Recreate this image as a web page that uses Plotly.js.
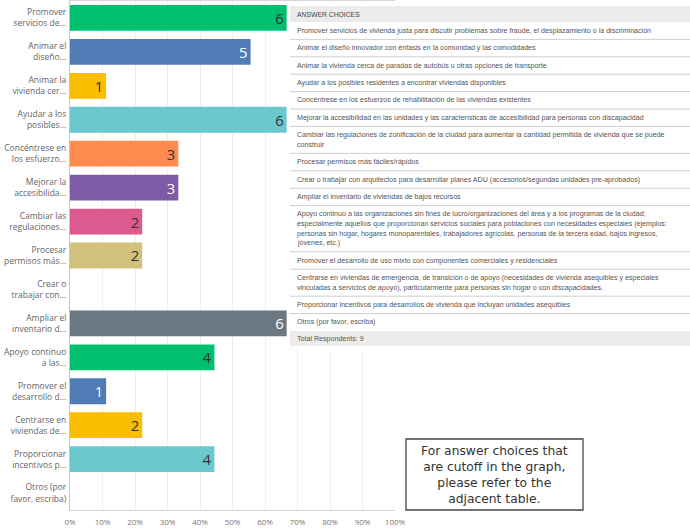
<!DOCTYPE html>
<html>
<head>
<meta charset="utf-8">
<script src="https://cdn.plot.ly/plotly-3.0.1.min.js"></script>
<style>
  html, body { margin: 0; padding: 0; background: #fff; }
  #plot { width: 690px; height: 529px; }
</style>
</head>
<body>
<div id="plot"></div>
<script>
// short labels as they appear on the chart (cut off)
let choices = [
    'Promover<br>servicios de...',
    'Animar el<br>diseño...',
    'Animar la<br>vivienda cer...',
    'Ayudar a los<br>posibles...',
    'Concéntrese en<br>los esfuerzo...',
    'Mejorar la<br>accesibilida...',
    'Cambiar las<br>regulaciones...',
    'Procesar<br>permisos más...',
    'Crear o<br>trabajar con...',
    'Ampliar el<br>inventario d...',
    'Apoyo continuo<br>a las...',
    'Promover el<br>desarrollo d...',
    'Centrarse en<br>viviendas de...',
    'Proporcionar<br>incentivos p...',
    'Otros (por<br>favor, escriba)'
];
let counts = [6, 5, 1, 6, 3, 3, 2, 2, 0, 6, 4, 1, 2, 4, 0];
let totalRespondents = 9;

let barColors = ['#00bf6f', '#507cb6', '#f9be00', '#6bc8cd', '#ff8b4f', '#7d5ba6', '#dd5a8f', '#d1c17d',
                 '#7d5ba6', '#6b7882', '#00bf6f', '#507cb6', '#f9be00', '#6bc8cd', '#ff8b4f'];
let textColors = ['#333', '#fff', '#333', '#333', '#333', '#fff', '#333', '#333',
                  '#333', '#fff', '#333', '#fff', '#333', '#333', '#333'];

let tickVals = [0, 0.1, 0.2, 0.3, 0.4, 0.5, 0.6, 0.7, 0.8, 0.9, 1];
let tickText = ['0%', '10%', '20%', '30%', '40%', '50%', '60%', '70%', '80%', '90%', '100%'];

// the answer choices table on the right
let tableHeader = 'ANSWER CHOICES';
let tableRows = [
    ['Promover servicios de vivienda justa para discutir problemas sobre fraude, el desplazamiento o la discriminación'],
    ['Animar el diseño innovador con énfasis en la comunidad y las comodidades'],
    ['Animar la vivienda cerca de paradas de autobús u otras opciones de transporte'],
    ['Ayudar a los posibles residentes a encontrar viviendas disponibles'],
    ['Concéntrese en los esfuerzos de rehabilitación de las viviendas existentes'],
    ['Mejorar la accesibilidad en las unidades y las características de accesibilidad para personas con discapacidad'],
    ['Cambiar las regulaciones de zonificación de la ciudad para aumentar la cantidad permitida de vivienda que se puede',
     'construir'],
    ['Procesar permisos más fáciles/rápidos'],
    ['Crear o trabajar con arquitectos para desarrollar planes ADU (accesorios/segundas unidades pre-aprobados)'],
    ['Ampliar el inventario de viviendas de bajos recursos'],
    ['Apoyo continuo a las organizaciones sin fines de lucro/organizaciones del área y a los programas de la ciudad;',
     'especialmente aquellos que proporcionan servicios sociales para poblaciones con necesidades especiales (ejemplos:',
     'personas sin hogar, hogares monoparentales, trabajadores agrícolas, personas de la tercera edad, bajos ingresos,',
     'jóvenes, etc.)'],
    ['Promover el desarrollo de uso mixto con componentes comerciales y residenciales'],
    ['Centrarse en viviendas de emergencia, de transición o de apoyo (necesidades de vivienda asequibles y especiales',
     'vinculadas a servicios de apoyo), particularmente para personas sin hogar o con discapacidades.'],
    ['Proporcionar incentivos para desarrollos de vivienda que incluyan unidades asequibles'],
    ['Otros (por favor, escriba)']
];
let totalLabel = 'Total Respondents: ' + totalRespondents;

let noteLines = ['For answer choices that', 'are cutoff in the graph,', 'please refer to the', 'adjacent table.'];

// pixel helpers -> paper coords (plot area 70..690 x, 1..510 y)
function px(x) { return (x - 70) / 620; }
function py(y) { return (510 - y) / 509; }

let shares = counts.map(c => c / totalRespondents);
let labels = counts.map(c => c > 0 ? String(c) : '');

let trace = {
    type: 'bar',
    orientation: 'h',
    x: shares,
    y: choices,
    text: labels,
    textposition: 'inside',
    insidetextanchor: 'end',
    textangle: 0,
    textfont: { family: 'Open Sans, sans-serif', size: 15, color: textColors },
    marker: { color: barColors },
    hoverinfo: 'skip',
    cliponaxis: false
};

let shapes = [];
let annotations = [];
let tableFont = { family: 'Liberation Sans, Arial, sans-serif', size: 7.1, color: '#555' };

// table background
let tL = 288, tR = 690;
shapes.push({ type: 'rect', xref: 'paper', yref: 'paper', x0: px(tL), x1: px(tR), y0: py(349), y1: py(3),
    fillcolor: '#ffffff', line: { width: 0 }, layer: 'above' });
// header band
shapes.push({ type: 'rect', xref: 'paper', yref: 'paper', x0: px(tL + 2), x1: px(tR), y0: py(22), y1: py(6),
    fillcolor: '#ebebeb', line: { width: 0 }, layer: 'above' });
annotations.push({ xref: 'paper', yref: 'paper', x: px(295), y: py(14), text: tableHeader,
    showarrow: false, xanchor: 'left', yanchor: 'middle',
    font: { family: 'Liberation Sans, Arial, sans-serif', size: 6.8, color: '#444' } });

let yTop = 22;
for (let i = 0; i < tableRows.length; i++) {
    let lines = tableRows[i];
    let h = 17.4 + 9.6 * (lines.length - 1);
    let firstY = yTop + h / 2 - 4.9 * (lines.length - 1);
    for (let j = 0; j < lines.length; j++) {
        annotations.push({ xref: 'paper', yref: 'paper', x: px(295), y: py(firstY + j * 9.8), text: lines[j],
            showarrow: false, xanchor: 'left', yanchor: 'middle', font: tableFont });
    }
    yTop += h;
    if (i < tableRows.length - 1) {
        shapes.push({ type: 'line', xref: 'paper', yref: 'paper', x0: px(tL + 2), x1: px(tR), y0: py(yTop), y1: py(yTop),
            line: { color: '#cfcfcf', width: 1 }, layer: 'above' });
    }
}
// total row
shapes.push({ type: 'rect', xref: 'paper', yref: 'paper', x0: px(tL + 2), x1: px(tR), y0: py(yTop + 15), y1: py(yTop),
    fillcolor: '#ececec', line: { width: 0 }, layer: 'above' });
annotations.push({ xref: 'paper', yref: 'paper', x: px(295), y: py(yTop + 8), text: totalLabel,
    showarrow: false, xanchor: 'left', yanchor: 'middle', font: tableFont });

// note box
shapes.push({ type: 'rect', xref: 'paper', yref: 'paper', x0: px(406), x1: px(583), y0: py(510), y1: py(439),
    fillcolor: '#ffffff', line: { color: '#444', width: 1.3 }, layer: 'above' });
annotations.push({ xref: 'paper', yref: 'paper', x: px(494.5), y: py(474.5), text: noteLines.join('<br>'),
    showarrow: false, xanchor: 'center', yanchor: 'middle', align: 'center',
    font: { family: 'DejaVu Sans, sans-serif', size: 12.3, color: '#333' } });

let layout = {
    width: 690,
    height: 529,
    margin: { l: 70, r: 0, t: 1, b: 19, pad: 0 },
    paper_bgcolor: '#ffffff',
    plot_bgcolor: '#ffffff',
    showlegend: false,
    bargap: 0.24,
    xaxis: {
        domain: [0, 325 / 620],
        range: [0, 1],
        tickvals: tickVals,
        ticktext: tickText,
        tickfont: { family: 'Open Sans, sans-serif', size: 8, color: '#777' },
        ticks: 'outside',
        ticklen: 4,
        tickcolor: 'rgba(0,0,0,0)',
        showgrid: true,
        gridcolor: '#eeeeee',
        zeroline: false,
        showline: true,
        linecolor: '#d6d6d6',
        mirror: true,
        fixedrange: true
    },
    yaxis: {
        type: 'category',
        autorange: 'reversed',
        tickfont: { family: 'Open Sans, sans-serif', size: 8.5, color: '#666' },
        ticks: '',
        ticklabelstandoff: 1,
        showgrid: false,
        zeroline: false,
        showline: true,
        linecolor: '#c8c8c8',
        fixedrange: true
    },
    shapes: shapes,
    annotations: annotations
};

Plotly.newPlot('plot', [trace], layout, { displayModeBar: false, staticPlot: true });
</script>
</body>
</html>
